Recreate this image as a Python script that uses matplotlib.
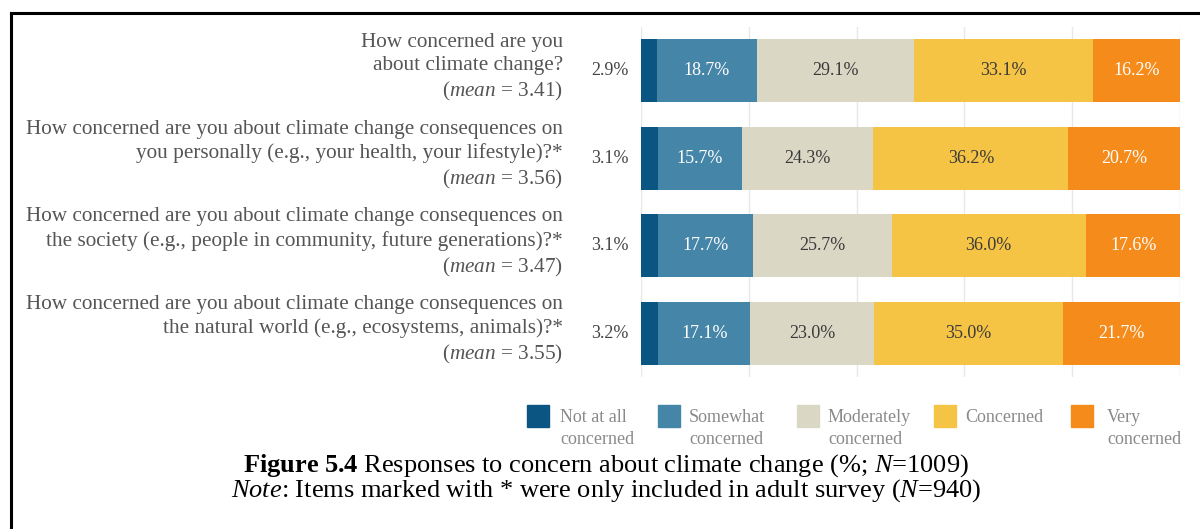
import numpy as np
import matplotlib.pyplot as plt
import matplotlib.transforms as mtransforms
from matplotlib.lines import Line2D

plt.rcParams['font.family'] = ['Liberation Serif', 'DejaVu Serif']
plt.rcParams['mathtext.fontset'] = 'custom'
plt.rcParams['mathtext.rm'] = 'Liberation Serif'
plt.rcParams['mathtext.it'] = 'Liberation Serif:italic'
plt.rcParams['mathtext.bf'] = 'Liberation Serif:bold'

# Survey items and their mean scores
questions = [
    'How concerned are you\nabout climate change?',
    'How concerned are you about climate change consequences on\nyou personally (e.g., your health, your lifestyle)?*',
    'How concerned are you about climate change consequences on\nthe society (e.g., people in community, future generations)?*',
    'How concerned are you about climate change consequences on\nthe natural world (e.g., ecosystems, animals)?*',
]
means = ['3.41', '3.56', '3.47', '3.55']

categories = ['Not at all\nconcerned', 'Somewhat\nconcerned', 'Moderately\nconcerned',
              'Concerned', 'Very\nconcerned']
not_at_all = [2.9, 3.1, 3.1, 3.2]
somewhat = [18.7, 15.7, 17.7, 17.1]
moderately = [29.1, 24.3, 25.7, 23.0]
concerned = [33.1, 36.2, 36.0, 35.0]
very = [16.2, 20.7, 17.6, 21.7]

colors = ['#0b5582', '#4585a8', '#dad7c5', '#f6c445', '#f58b1b']
text_colors = [None, 'white', '#3a3a3a', '#3a3a3a', 'white']

fig = plt.figure(figsize=(12, 5.29), dpi=100)
W, H = 1200, 529
ax = fig.add_axes([641 / W, 1 - 377 / H, (1180 - 641) / W, 350 / H])

series = [not_at_all, somewhat, moderately, concerned, very]
y = np.arange(len(questions))
left = np.zeros(len(questions))
for k, vals in enumerate(series):
    vals = np.array(vals)
    ax.barh(y, vals, left=left, height=0.72, color=colors[k], zorder=2)
    for i, v in enumerate(vals):
        if k == 0:
            ax.text(-2.3, y[i], f'{v:.1f}%', ha='right', va='center',
                    fontsize=13, color='#444444')
        else:
            ax.text(left[i] + v / 2, y[i], f'{v:.1f}%', ha='center', va='center',
                    fontsize=13, color=text_colors[k])
    left += vals

ax.set_xlim(0, 100)
ax.set_ylim(3.5, -0.5)
ax.set_xticks([0, 20, 40, 60, 80, 100])
ax.grid(axis='x', color='#e8e8e8', linewidth=1, zorder=0)
ax.tick_params(left=False, bottom=False, labelleft=False, labelbottom=False)
for s in ax.spines.values():
    s.set_visible(False)

# Question labels on the left: x in figure coords, y follows the bars
trans = mtransforms.blended_transform_factory(fig.transFigure, ax.transData)
for i, q in enumerate(questions):
    ax.text(563 / W, y[i] - 0.03, q + '\n($\\mathit{mean}$ = ' + means[i] + ')',
            transform=trans, ha='right', va='center', fontsize=15.3,
            color='#555555', linespacing=1.3, clip_on=False)

# Legend
leg_sq_x = [527, 658, 797, 934, 1071]
leg_tx_x = [560, 689, 828, 965, 1107]
for k, c in enumerate(categories):
    fig.patches.append(plt.Rectangle((leg_sq_x[k] / W, 1 - 427 / H), 22 / W, 22 / H,
                                     transform=fig.transFigure, color=colors[k]))
    fig.text(leg_tx_x[k] / W, 1 - 409 / H, c, ha='left', va='top',
             fontsize=13, color='#8a8a8a', linespacing=1.35)

# Caption
fig.text(606 / W, 1 - 466 / H,
         '$\\mathbf{Figure\\ 5.4}$ Responses to concern about climate change (%; $\\mathit{N}$=1009)',
         ha='center', va='center', fontsize=19, color='black')
fig.text(606 / W, 1 - 491 / H,
         '$\\mathit{Note}$: Items marked with * were only included in adult survey ($\\mathit{N}$=940)',
         ha='center', va='center', fontsize=19, color='black')

# Frame around the figure
fig.lines.append(Line2D([10.5 / W, 1], [1 - 13 / H, 1 - 13 / H], transform=fig.transFigure,
                        color='black', linewidth=2.2))
fig.lines.append(Line2D([10.5 / W, 10.5 / W], [0, 1 - 13 / H], transform=fig.transFigure,
                        color='black', linewidth=2.2))

fig.savefig('out.png', dpi=100)
